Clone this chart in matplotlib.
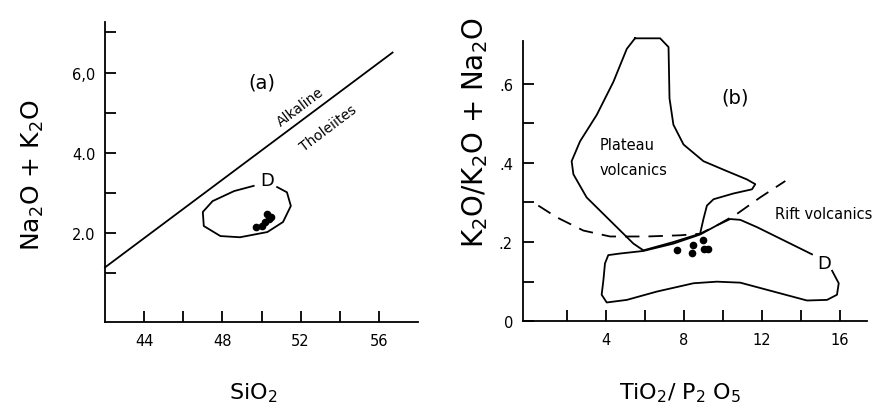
import numpy as np
import matplotlib

matplotlib.use("Agg")
import matplotlib.pyplot as plt

plt.rcParams["font.family"] = "DejaVu Sans"
plt.rcParams["mathtext.default"] = "regular"

# ---- panel (a): SiO2 vs Na2O+K2O -------------------------------------------
div_sio2 = [42.0, 56.7]
div_alk = [1.15, 6.5]

d_a_sio2 = [49.6, 48.6, 47.5, 47.0, 47.05, 47.9, 48.9, 50.3, 51.1, 51.5,
            51.3, 50.8]
d_a_alk = [3.18, 3.05, 2.80, 2.53, 2.18, 1.93, 1.90, 2.03, 2.28, 2.68,
           3.02, 3.15]

pts_a_sio2 = [49.7, 50.0, 50.2, 50.4, 50.3, 50.5]
pts_a_alk = [2.15, 2.18, 2.28, 2.35, 2.48, 2.40]

# ---- panel (b): TiO2/P2O5 vs K2O/(K2O+Na2O) --------------------------------
plateau_x = [5.50, 6.79, 7.22, 7.27, 7.47, 7.99, 9.01, 10.21, 11.24, 11.67,
             11.50, 10.55, 9.53, 9.19, 9.01, 8.84, 7.47, 5.93, 5.42, 4.39,
             3.02, 2.34, 2.25, 2.68, 3.54, 4.39, 5.08, 5.50]
plateau_y = [0.714, 0.714, 0.692, 0.5625, 0.496, 0.446, 0.404, 0.379, 0.358,
             0.346, 0.333, 0.3225, 0.308, 0.292, 0.258, 0.221, 0.200, 0.179,
             0.196, 0.246, 0.3125, 0.371, 0.404, 0.454, 0.521, 0.604, 0.6875,
             0.714]

d_b_x = [14.58, 13.47, 11.76, 10.90, 10.38, 9.70, 8.84, 7.47, 5.93, 4.73,
         4.13, 3.96, 3.88, 3.79, 4.05, 5.08, 6.62, 8.50, 9.70, 10.90, 12.61,
         14.32, 15.35, 15.86, 15.95, 15.61]
d_b_y = [0.169, 0.196, 0.2375, 0.256, 0.258, 0.242, 0.219, 0.196, 0.1775,
         0.171, 0.167, 0.146, 0.104, 0.067, 0.0475, 0.054, 0.075, 0.096, 0.100,
         0.0975, 0.075, 0.0525, 0.054, 0.067, 0.096, 0.1275]

rift_x = [0.54, 1.48, 2.85, 4.22, 6.10, 7.82, 8.84, 9.70, 10.73, 11.92, 13.21]
rift_y = [0.292, 0.2625, 0.229, 0.214, 0.214, 0.217, 0.221, 0.242, 0.271,
          0.3125, 0.354]

pts_b_x = [7.65, 8.42, 8.50, 9.01, 9.05, 9.27]
pts_b_y = [0.179, 0.172, 0.192, 0.204, 0.183, 0.183]

LW = 1.3


def style_axes(ax):
    for s in ("top", "right"):
        ax.spines[s].set_visible(False)
    for s in ("left", "bottom"):
        ax.spines[s].set_linewidth(LW)
    ax.tick_params(direction="in", length=8, width=LW, labelsize=10.5)
    ax.tick_params(axis="x", pad=8)
    ax.tick_params(axis="y", pad=7)


fig = plt.figure(figsize=(8.92, 4.10), dpi=100)

# panel (a)
ax = fig.add_axes([105 / 892, 1 - 323 / 410, (418 - 105) / 892, 300 / 410])
ax.set_xlim(42, 58)
ax.set_ylim(-0.21, 7.26)
style_axes(ax)
ax.set_xticks(np.arange(44, 57, 2))
ax.set_xticklabels(["44", "", "48", "", "52", "", "56"])
ax.set_yticks(np.arange(1, 8))
ax.set_yticklabels(["", "2.0", "", "4.0", "", "6,0", ""])
ax.plot(div_sio2, div_alk, color="black", lw=LW, clip_on=False)
ax.plot(d_a_sio2, d_a_alk, color="black", lw=LW, solid_joinstyle="round")
ax.plot(pts_a_sio2, pts_a_alk, "o", color="black", ms=4.5)
ax.text(50.3, 3.32, "D", fontsize=13, ha="center", va="center")
ax.text(50.0, 5.76, "(a)", fontsize=14, ha="center", va="center")
ax.text(52.0, 5.17, "Alkaline", fontsize=10, rotation=37, ha="center",
        va="center")
ax.text(53.4, 4.64, "Tholeiites", fontsize=10, rotation=37, ha="center",
        va="center")

# panel (b)
bx = fig.add_axes([522.7 / 892, 1 - 322.3 / 410, (867 - 522.7) / 892,
                   (322.3 - 41.7) / 410])
bx.set_xlim(-0.26, 17.4)
bx.set_ylim(0, 0.708)
style_axes(bx)
bx.set_xticks(np.arange(2, 17, 2))
bx.set_xticklabels(["", "4", "", "8", "", "12", "", "16"])
bx.set_yticks(np.arange(0, 0.65, 0.1))
bx.set_yticklabels(["0", "", ".2", "", ".4", "", ".6"])
bx.plot(plateau_x, plateau_y, color="black", lw=LW, clip_on=False,
        solid_joinstyle="round")
bx.plot(d_b_x, d_b_y, color="black", lw=LW, solid_joinstyle="round")
bx.plot(rift_x, rift_y, color="black", lw=LW, ls=(0, (8, 5)))
bx.plot(pts_b_x, pts_b_y, "o", color="black", ms=4.5)
bx.text(15.18, 0.146, "D", fontsize=13, ha="center", va="center")
bx.text(10.64, 0.567, "(b)", fontsize=14, ha="center", va="center")
bx.text(5.08, 0.446, "Plateau", fontsize=10.5, ha="center", va="center")
bx.text(5.42, 0.382, "volcanics", fontsize=10.5, ha="center", va="center")
bx.text(15.2, 0.271, "Rift volcanics", fontsize=10.5, ha="center",
        va="center")

# axis titles
fig.text(33 / 892, 1 - 175 / 410, r"Na$_2$O + K$_2$O", fontsize=18,
         rotation=90, ha="center", va="center")
fig.text(253 / 892, 1 - 393 / 410, r"SiO$_2$", fontsize=16, ha="center",
         va="center")
fig.text(475 / 892, 1 - 133 / 410, r"K$_2$O/K$_2$O + Na$_2$O", fontsize=20,
         rotation=90, ha="center", va="center")
fig.text(680 / 892, 1 - 393 / 410, r"TiO$_2$/ P$_2$ O$_5$", fontsize=16,
         ha="center", va="center")

fig.savefig("out.png", dpi=100)
